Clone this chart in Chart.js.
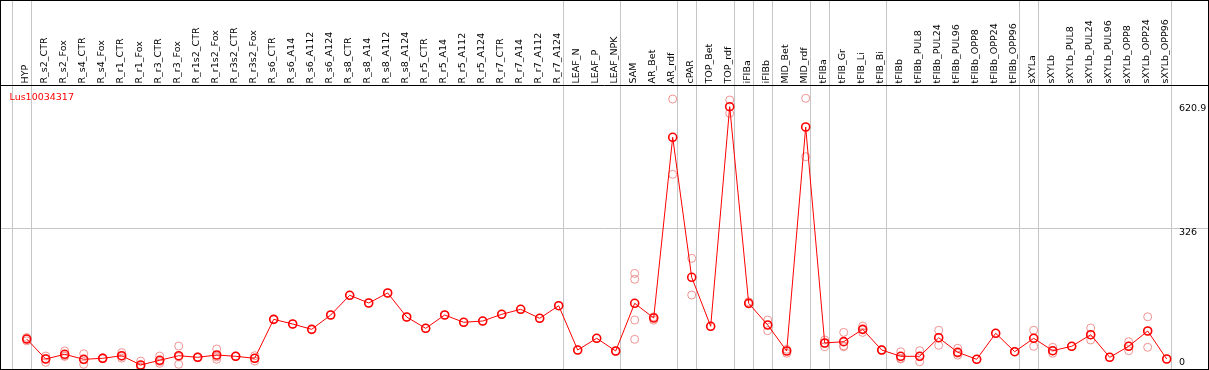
<!DOCTYPE html>
<html><head><meta charset="utf-8">
<script src="https://cdn.jsdelivr.net/npm/chart.js@4/dist/chart.umd.min.js"></script>
<style>html,body{margin:0;padding:0;background:#fff;overflow:hidden}canvas{display:block}</style>
</head><body>
<canvas id="c" width="1209" height="370"></canvas>
<script>
const geneId = "Lus10034317";
const categories = ["HYP","R_s2_CTR","R_s2_Fox","R_s4_CTR","R_s4_Fox","R_r1_CTR","R_r1_Fox","R_r3_CTR","R_r3_Fox","R_r1s2_CTR","R_r1s2_Fox","R_r3s2_CTR","R_r3s2_Fox","R_s6_CTR","R_s6_A14","R_s6_A112","R_s6_A124","R_s8_CTR","R_s8_A14","R_s8_A112","R_s8_A124","R_r5_CTR","R_r5_A14","R_r5_A112","R_r5_A124","R_r7_CTR","R_r7_A14","R_r7_A112","R_r7_A124","LEAF_N","LEAF_P","LEAF_NPK","SAM","AR_Bet","AR_rdf","cPAR","TOP_Bet","TOP_rdf","iFIBa","iFIBb","MID_Bet","MID_rdf","tFIBa","tFIB_Gr","tFIB_Li","tFIB_Bi","tFIBb","tFIBb_PUL8","tFIBb_PUL24","tFIBb_PUL96","tFIBb_OPP8","tFIBb_OPP24","tFIBb_OPP96","sXYLa","sXYLb","sXYLb_PUL8","sXYLb_PUL24","sXYLb_PUL96","sXYLb_OPP8","sXYLb_OPP24","sXYLb_OPP96"];
const means = [63.3,15.9,27,15.2,17.5,23.7,1.7,12.8,23.7,19.9,25.4,22.3,17.5,
  110,98.9,86.3,120.3,167,148.8,172.5,115.5,88.7,120.3,103,106,121.9,133.8,112.5,142.3,
  37.2,65,34.9,148,113.2,541.9,209.7,93.5,614.5,148,96.6,34.9,566.3,
  53.9,57,86.3,37.2,22.3,22.3,66.4,31.8,15.2,76.9,33.2,65,35.6,46,73.5,19.9,46,82.3,15.9];
const replicates = [
  [67,63,59],[23,17,8],[35,24,22],[28.5,14,3.3],[19,17,16.5],[31,22,18],[11,-2,-4],[23,10,5.7],[46.7,21,3.3],[21,20,19],[39.6,21,15.2],[23,22,22],[23.7,17.5,11],
  [110],[98.9],[86.3],[120.3],[167],[148.8],[172.5],[115.5],[88.7],[120.3],[103],[106],[121.9],[133.8],[112.5],[142.3],
  [37.2],[65],[35,34],[219,205,108.4,62.6],[116,108],[632.7,454],[254.8,167.7],[93.5],[630.4,598.8],[151.8,146.4],[108.4,83],[38.9,29.4],[634.4,495.8],
  [61,53,45],[79,47,45],[94,86,79],[38,36],[33,17.5,16],[35.6,22,9.5],[84,66,48.4],[41.3,29.4,25],[15.2],[76.9],[33.2],[84,65,46],[43.7,35,29.4],[46],[89.4,73,61],[19.9],[57,46.7,35.6],[116,82,43.7],[15.9]
];
const groupEnds = [-1,0,28,31,34,35,37,38,39,41,42,45,52,53,60];
const yTicks = [0,326,620.9];
const yTickLabels = ["0","326","620.9"];

const meanPoints = means.map((v,i)=>({x:i,y:v}));
const repPoints = [];
replicates.forEach((arr,i)=>arr.forEach(v=>repPoints.push({x:i,y:v})));

const FONT = '9.5px "DejaVu Sans"';
const framePlugin = {
  id:'frame',
  beforeDatasetsDraw(chart){
    const ctx=chart.ctx, xs=chart.scales.x, ys=chart.scales.y;
    const W=chart.width, H=chart.height;
    ctx.save();
    ctx.strokeStyle='#c6c6c6'; ctx.lineWidth=1;
    const gy=Math.round(ys.getPixelForValue(yTicks[1]))+0.5;
    ctx.beginPath(); ctx.moveTo(1,gy); ctx.lineTo(W-1,gy); ctx.stroke();
    groupEnds.forEach(g=>{
      const px=Math.round(xs.getPixelForValue(g+0.21))+0.5;
      ctx.beginPath(); ctx.moveTo(px,1); ctx.lineTo(px,H-1); ctx.stroke();
    });
    ctx.fillStyle='#000'; ctx.font=FONT;
    ctx.textAlign='left'; ctx.textBaseline='middle';
    categories.forEach((c,i)=>{
      const px=xs.getPixelForValue(i)-1.5;
      ctx.save(); ctx.translate(px,83.5); ctx.rotate(-Math.PI/2);
      ctx.fillText(c,0,0); ctx.restore();
    });
    ctx.strokeStyle='#000';
    ctx.strokeRect(0.5,0.5,W-1,H-1);
    ctx.beginPath(); ctx.moveTo(0,85.5); ctx.lineTo(W,85.5); ctx.stroke();
    ctx.fillStyle='#ff0000'; ctx.font=FONT; ctx.textBaseline='middle';
    ctx.fillText(geneId,9.5,98);
    ctx.fillStyle='#000'; ctx.textBaseline='top';
    yTicks.forEach((v,k)=>{
      let py=Math.round(ys.getPixelForValue(v));
      py=Math.min(py,H-12);
      ctx.fillText(yTickLabels[k],1179,py);
    });
    ctx.restore();
  }
};

new Chart(document.getElementById('c'),{
  data:{datasets:[
    {type:'line',data:meanPoints,borderColor:'#ff0000',borderWidth:1,tension:0,
     pointRadius:4,pointBorderWidth:1.6,pointBorderColor:'#ff0000',pointBackgroundColor:'rgba(0,0,0,0)',order:0},
    {type:'scatter',data:repPoints,showLine:false,pointRadius:4,pointBorderWidth:1,
     pointBorderColor:'rgba(236,128,128,0.85)',pointBackgroundColor:'rgba(0,0,0,0)',order:1}
  ]},
  options:{
    responsive:false,animation:false,devicePixelRatio:1,
    layout:{autoPadding:false,padding:{left:1,right:1,top:86,bottom:1}},
    scales:{
      x:{type:'linear',min:-1.3526,max:62.174,display:false},
      y:{type:'linear',min:-7.83,max:663.6,display:false}
    },
    plugins:{legend:{display:false},tooltip:{enabled:false}}
  },
  plugins:[framePlugin]
});
</script>
</body></html>
